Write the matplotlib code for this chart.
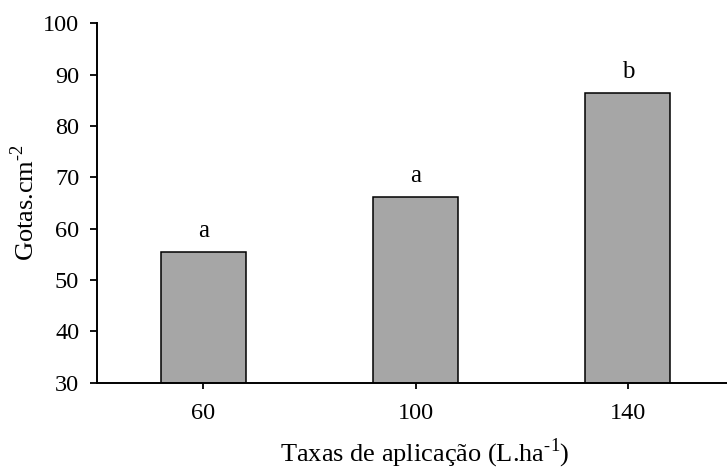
import matplotlib
matplotlib.use("Agg")
import matplotlib.pyplot as plt

# taxas de aplicacao (L/ha) e gotas por cm2
taxas = ["60", "100", "140"]
gotas = [55.4, 66.2, 86.5]
letras = ["a", "a", "b"]

plt.rcParams["font.family"] = ["Liberation Serif", "DejaVu Serif"]
plt.rcParams["mathtext.fontset"] = "custom"
plt.rcParams["mathtext.rm"] = "Liberation Serif"

fig = plt.figure(figsize=(7.27, 4.70), dpi=100)
ax = fig.add_axes([97.3 / 727, 1 - 382.6 / 470, (734 - 97.3) / 727, (382.6 - 23.3) / 470])

x = list(range(len(taxas)))
ax.bar(x, gotas, width=0.4, color="#A6A6A6", edgecolor="black", linewidth=1.1)

# letras da comparacao de medias
for xi, v, l in zip(x, gotas, letras):
    ax.text(xi, v + 2.9, l, ha="center", va="baseline", fontsize=18)

ax.set_xlim(-0.5, 2.5)
ax.set_ylim(30, 100)
ax.set_yticks(range(30, 101, 10))
ax.set_xticks(x)
ax.set_xticklabels(taxas)

ax.spines["top"].set_visible(False)
ax.spines["right"].set_visible(False)
ax.spines["left"].set_linewidth(1.4)
ax.spines["bottom"].set_linewidth(1.4)
ax.tick_params(axis="y", direction="out", length=5, width=1.3, pad=8, labelsize=17.5)
ax.tick_params(axis="x", direction="out", length=4, width=1.3, pad=11, labelsize=17.5)

ax.set_xlabel("Taxas de aplicação (L.ha$^{\\text{-1}}$)", fontsize=19, labelpad=9)
ax.xaxis.label.set_x(0.515)
ax.set_ylabel("Gotas.cm$^{\\text{-2}}$", fontsize=19, labelpad=3)

fig.savefig("out.png", dpi=100)
